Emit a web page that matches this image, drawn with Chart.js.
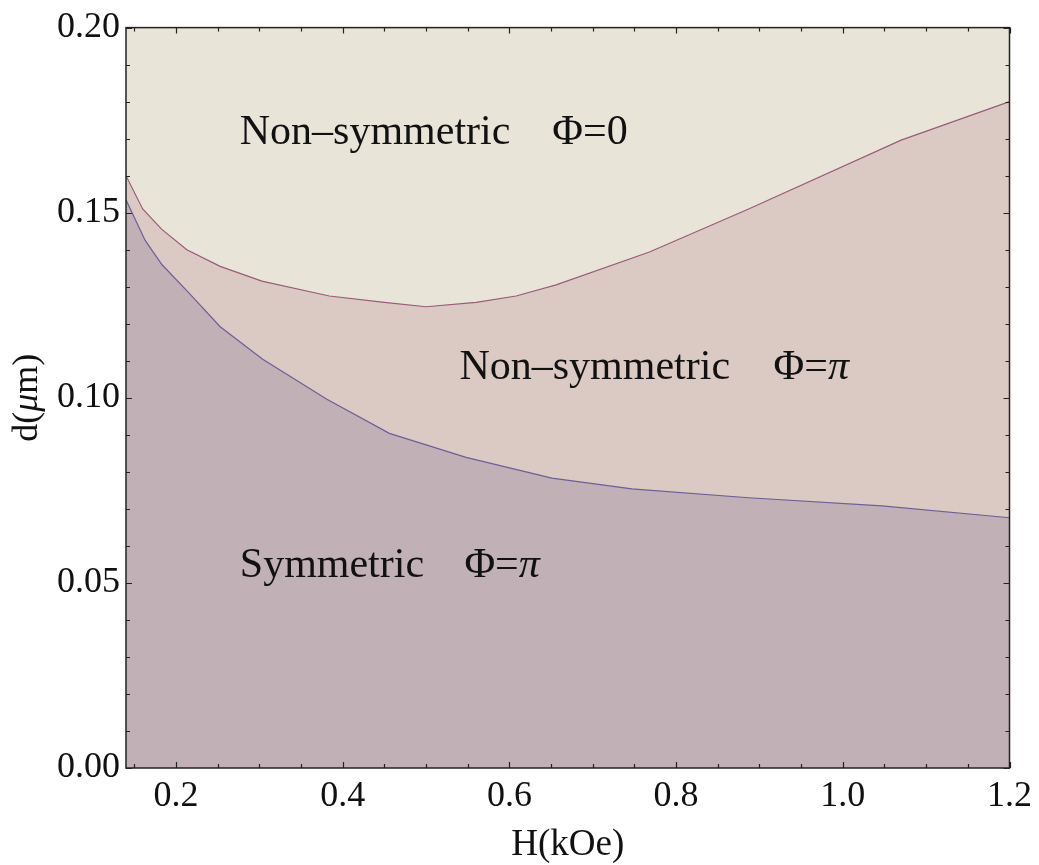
<!DOCTYPE html>
<html>
<head>
<meta charset="utf-8">
<script src="https://cdn.jsdelivr.net/npm/chart.js@4.4.1/dist/chart.umd.min.js"></script>
<style>
  html, body { margin: 0; padding: 0; background: #fff; }
</style>
</head>
<body>
<canvas id="chart" width="1039" height="865"></canvas>
<script>
// boundary between non-symmetric phi=0 and phi=pi
const upperH = [0.14, 0.16, 0.183, 0.213, 0.253, 0.303, 0.384, 0.45, 0.50, 0.56, 0.608, 0.656, 0.768, 0.887, 1.07, 1.2];
const upperD = [0.160, 0.151, 0.1455, 0.140, 0.1355, 0.1315, 0.1275, 0.1258, 0.1246, 0.1258, 0.1275, 0.1305, 0.1394, 0.151, 0.1696, 0.180];
// boundary of the symmetric phase
const lowerH = [0.14, 0.163, 0.183, 0.214, 0.253, 0.304, 0.381, 0.456, 0.548, 0.651, 0.747, 0.887, 1.047, 1.2];
const lowerD = [0.1535, 0.1425, 0.136, 0.1287, 0.1192, 0.1104, 0.0996, 0.0904, 0.0839, 0.0783, 0.0754, 0.073, 0.0708, 0.0676];

const xTicks = [0.2, 0.4, 0.6, 0.8, 1.0, 1.2];
const yTicks = [0.00, 0.05, 0.10, 0.15, 0.20];
const xMinor = [0.15, 0.25, 0.3, 0.35, 0.45, 0.5, 0.55, 0.65, 0.7, 0.75, 0.85, 0.9, 0.95, 1.05, 1.1, 1.15];
const yMinor = [0.01, 0.02, 0.03, 0.04, 0.06, 0.07, 0.08, 0.09, 0.11, 0.12, 0.13, 0.14, 0.16, 0.17, 0.18, 0.19];

// region labels: [name, phase, name x, phase x, baseline y] in data units
const regionLabels = [
  ['Non\u2013symmetric', '0', 0.2765, 0.6514, 0.1685],
  ['Non\u2013symmetric', '\u03c0', 0.54, 0.917, 0.105],
  ['Symmetric', '\u03c0', 0.2765, 0.546, 0.0517]
];

const SERIF = "'Liberation Serif', 'Times New Roman', serif";
const topColor = '#e8e5d8';
const midColor = '#dbc9c3';
const lowColor = '#c1b0b5';

const toPoints = (xs, ys) => xs.map((x, i) => ({x: x, y: ys[i]}));

const plotDecor = {
  id: 'plotDecor',
  beforeDatasetsDraw(chart) {
    const {ctx, chartArea: a} = chart;
    ctx.save();
    ctx.fillStyle = topColor;
    ctx.fillRect(a.left, a.top, a.right - a.left, a.bottom - a.top);
    ctx.restore();
  },
  afterDatasetsDraw(chart) {
    const {ctx, chartArea: a, scales} = chart;
    const xs = scales.x, ys = scales.y;
    ctx.save();
    // frame
    ctx.strokeStyle = '#222';
    ctx.lineWidth = 1.5;
    ctx.strokeRect(a.left, a.top, a.right - a.left, a.bottom - a.top);
    // inward ticks on all four sides
    ctx.lineWidth = 1.2;
    ctx.beginPath();
    const xt = (v, len) => {
      const p = Math.round(xs.getPixelForValue(v)) + 0.5;
      ctx.moveTo(p, a.bottom); ctx.lineTo(p, a.bottom - len);
      ctx.moveTo(p, a.top); ctx.lineTo(p, a.top + len);
    };
    const yt = (v, len) => {
      const p = Math.round(ys.getPixelForValue(v)) + 0.5;
      ctx.moveTo(a.left, p); ctx.lineTo(a.left + len, p);
      ctx.moveTo(a.right, p); ctx.lineTo(a.right - len, p);
    };
    xTicks.forEach(v => xt(v, 6));
    xMinor.forEach(v => xt(v, 4));
    yTicks.forEach(v => yt(v, 6));
    yMinor.forEach(v => yt(v, 4));
    ctx.stroke();

    // region labels
    ctx.fillStyle = '#111';
    ctx.textBaseline = 'alphabetic';
    ctx.textAlign = 'left';
    const up = '42px ' + SERIF;
    const it = 'italic 42px ' + SERIF;
    regionLabels.forEach(([name, phase, nx, px, by]) => {
      const y = ys.getPixelForValue(by);
      ctx.font = up;
      ctx.fillText(name, xs.getPixelForValue(nx), y);
      let x = xs.getPixelForValue(px);
      ctx.fillText('\u03a6=', x, y);
      x += ctx.measureText('\u03a6=').width;
      ctx.font = phase === '0' ? up : it;
      ctx.fillText(phase, x, y);
    });

    // y axis title d(mu m) with italic mu
    const tf = '36px ' + SERIF, tfi = 'italic 36px ' + SERIF;
    ctx.translate(37, (a.top + a.bottom) / 2);
    ctx.rotate(-Math.PI / 2);
    const parts = [['d(', tf], ['\u03bc', tfi], ['m)', tf]];
    let w = 0;
    parts.forEach(([t, f]) => { ctx.font = f; w += ctx.measureText(t).width; });
    let x0 = -w / 2;
    parts.forEach(([t, f]) => { ctx.font = f; ctx.fillText(t, x0, 0); x0 += ctx.measureText(t).width; });
    ctx.restore();
  }
};

new Chart(document.getElementById('chart').getContext('2d'), {
  type: 'line',
  data: {
    datasets: [
      {
        label: 'symmetric boundary',
        data: toPoints(lowerH, lowerD),
        borderColor: '#6c5f9c',
        borderWidth: 1.2,
        backgroundColor: lowColor,
        fill: 'origin',
        pointRadius: 0,
        tension: 0
      },
      {
        label: 'phase boundary',
        data: toPoints(upperH, upperD),
        borderColor: '#9c5a7a',
        borderWidth: 1.2,
        backgroundColor: midColor,
        fill: 'origin',
        pointRadius: 0,
        tension: 0
      }
    ]
  },
  options: {
    responsive: false,
    animation: false,
    layout: { padding: { top: 25, right: 29, left: 0, bottom: 0 } },
    plugins: { legend: { display: false }, tooltip: { enabled: false } },
    scales: {
      x: {
        type: 'linear',
        min: 0.14,
        max: 1.2,
        afterBuildTicks: scale => { scale.ticks = xTicks.map(v => ({value: v})); },
        afterFit: scale => { scale.height = 97; },
        grid: { display: false, drawTicks: false },
        border: { display: false },
        ticks: {
          autoSkip: false,
          maxRotation: 0,
          padding: 7,
          color: '#111',
          font: { family: SERIF, size: 36 },
          callback: v => v.toFixed(1)
        },
        title: {
          display: true,
          text: 'H(kOe)',
          color: '#111',
          font: { family: SERIF, size: 37, lineHeight: 1.2 },
          padding: { top: 0, bottom: -2 }
        }
      },
      y: {
        type: 'linear',
        min: 0,
        max: 0.2,
        afterBuildTicks: scale => { scale.ticks = yTicks.map(v => ({value: v})); },
        afterFit: scale => { scale.width = 126; },
        grid: { display: false, drawTicks: false },
        border: { display: false },
        ticks: {
          autoSkip: false,
          padding: 6,
          color: '#111',
          font: { family: SERIF, size: 36 },
          callback: v => v.toFixed(2)
        }
      }
    }
  },
  plugins: [plotDecor]
});
</script>
</body>
</html>
